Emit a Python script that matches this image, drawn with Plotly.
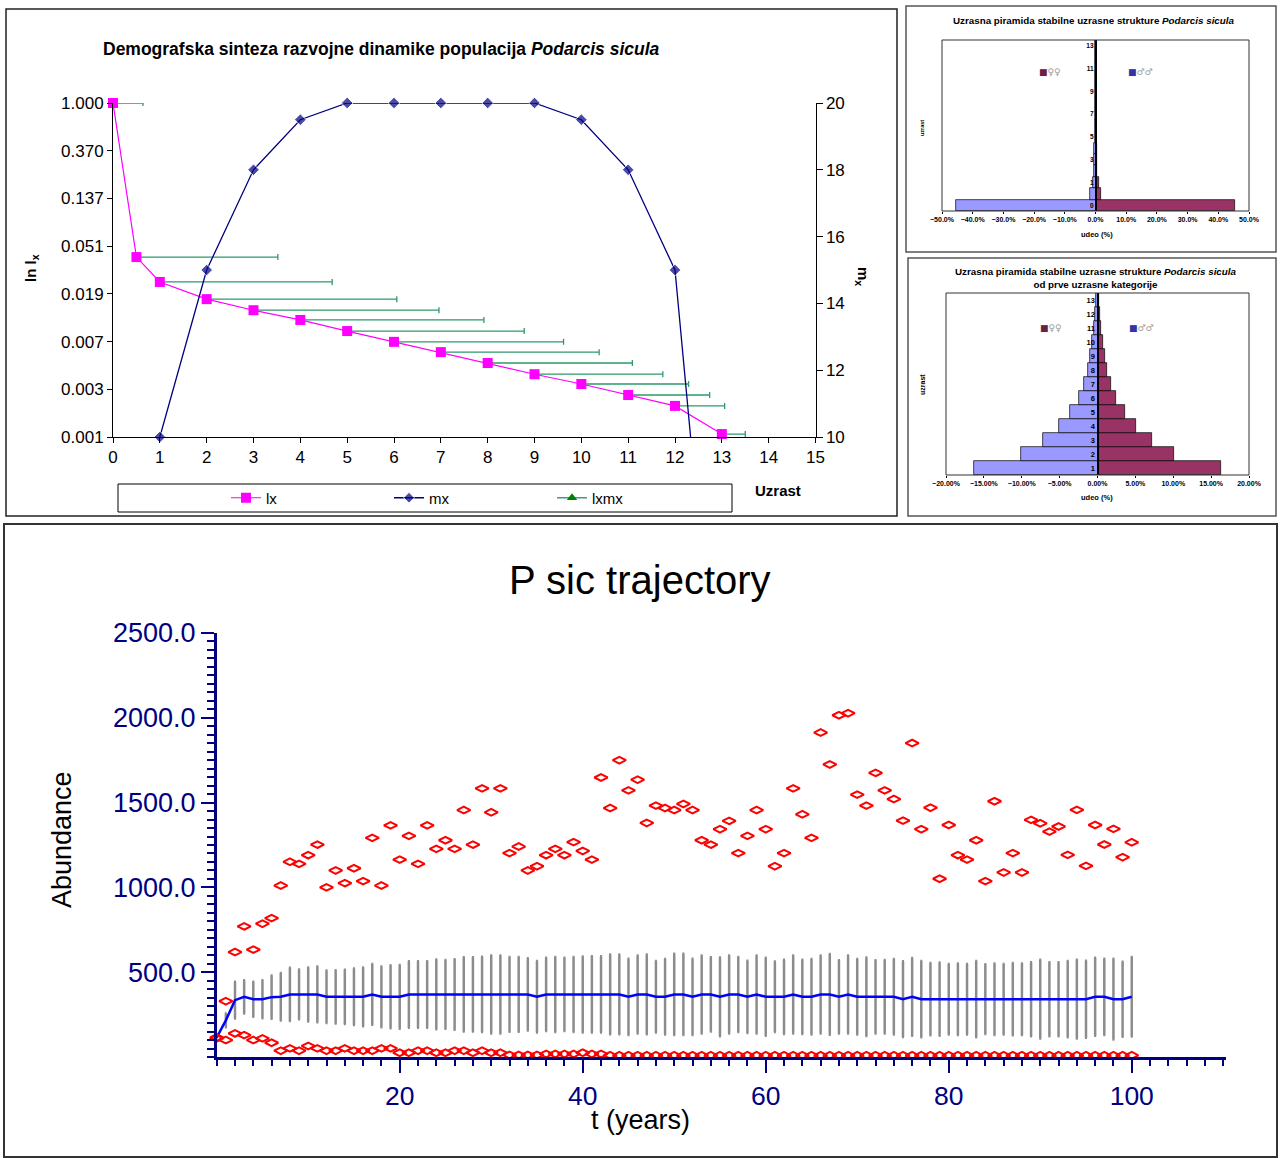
import math
import plotly.graph_objects as go

W, H = 1284, 1158
FONT = "Liberation Sans, Arial, sans-serif"
SYM_FONT = "DejaVu Sans, Noto Sans, sans-serif"


def px(x):
    return x / W


def py(y):
    return 1 - y / H


# ---------------- Panel 1: life table ----------------
age = [0, 0.5, 1, 2, 3, 4, 5, 6, 7, 8, 9, 10, 11, 12, 13]
lx = [1.0, 0.0396, 0.0235, 0.0164, 0.0130, 0.0106, 0.0084, 0.0067, 0.0054,
      0.0043, 0.0034, 0.00277, 0.0022, 0.00175, 0.00097]
lxmx_reach = [0.64, 3.02, 3.68, 4.06, 3.96, 3.92, 3.78, 3.62, 3.38, 3.09,
              2.74, 2.29, 1.74, 1.06, 0.5]
mx_age = [1, 2, 3, 4, 5, 6, 7, 8, 9, 10, 11, 12, 13]
mx = [10, 15, 18, 19.5, 20, 20, 20, 20, 20, 19.5, 18, 15, 0]
ln_tick_labels = ["1.000", "0.370", "0.137", "0.051", "0.019", "0.007", "0.003", "0.001"]

# ---------------- Pyramids ----------------
pyr1_age = ["0", "0.5", "1", "2", "3", "4", "5", "6", "7", "8", "9", "10", "11", "12", "13"]
pyr1_males = [45.5, 1.75, 0.9, 0.6, 0.45, 0.35, 0.28, 0.22, 0.17, 0.13, 0.1, 0.08, 0.05, 0.03, 0.01]
pyr1_females = [45.5, 1.8, 1.0, 0.6, 0.45, 0.35, 0.28, 0.22, 0.17, 0.13, 0.1, 0.08, 0.05, 0.03, 0.01]

pyr2_age = ["1", "2", "3", "4", "5", "6", "7", "8", "9", "10", "11", "12", "13"]
pyr2_males = [16.25, 10.05, 7.15, 5.05, 3.58, 2.5, 1.83, 1.22, 0.94, 0.68, 0.45, 0.38, 0.2]
pyr2_females = [16.25, 10.05, 7.15, 5.05, 3.58, 2.5, 1.83, 1.22, 0.94, 0.68, 0.45, 0.38, 0.2]

# ---------------- Trajectory ----------------
years = list(range(0, 101))
traj_x_ticks = [20, 40, 60, 80, 100]
traj_y_ticks = [500, 1000, 1500, 2000, 2500]
traj_mean = [115, 216, 335, 355, 341, 341, 353, 355, 369, 369,
             369, 369, 355, 355, 355, 355, 355, 369, 355, 355,
             355, 369, 369, 369, 369, 369, 369, 369, 369, 369,
             369, 369, 369, 369, 369, 355, 369, 369, 369, 369,
             369, 369, 369, 369, 369, 355, 369, 369, 355, 355,
             369, 369, 355, 369, 369, 355, 369, 369, 355, 369,
             355, 355, 355, 369, 355, 355, 369, 369, 355, 369,
             355, 355, 355, 355, 355, 341, 355, 341, 341, 341,
             341, 341, 341, 341, 341, 341, 341, 341, 341, 341,
             341, 341, 341, 341, 341, 341, 355, 355, 341, 341,
             355]
traj_sd = [0, 41, 108, 98, 103, 112, 127, 140, 157, 147,
           159, 164, 155, 157, 160, 167, 173, 179, 179, 186,
           188, 196, 196, 196, 206, 203, 208, 219, 219, 222,
           230, 230, 220, 220, 213, 211, 216, 221, 216, 221,
           224, 225, 225, 235, 235, 225, 230, 235, 211, 223,
           240, 240, 225, 230, 219, 232, 230, 221, 213, 230,
           230, 208, 219, 230, 219, 223, 230, 238, 216, 230,
           223, 231, 216, 217, 223, 223, 229, 225, 213, 216,
           208, 211, 208, 225, 206, 211, 208, 213, 211, 218,
           232, 218, 218, 225, 232, 227, 230, 225, 238, 221,
           234]
traj_max = [115, 329, 619, 770, 633, 786, 819, 1011, 1151, 1139,
            1190, 1252, 1000, 1100, 1025, 1113, 1037, 1292, 1011, 1366,
            1164, 1304, 1139, 1366, 1227, 1278, 1227, 1456, 1252, 1584,
            1443, 1584, 1202, 1241, 1100, 1125, 1190, 1227, 1190, 1267,
            1215, 1164, 1648, 1468, 1750, 1572, 1635, 1380, 1482, 1468,
            1456, 1492, 1456, 1278, 1252, 1343, 1392, 1202, 1304, 1456,
            1343, 1125, 1202, 1584, 1431, 1292, 1913, 1725, 2015, 2027,
            1547, 1482, 1675, 1572, 1521, 1394, 1851, 1343, 1470, 1051,
            1368, 1190, 1164, 1278, 1037, 1508, 1088, 1202, 1088, 1398,
            1378, 1329, 1359, 1192, 1457, 1127, 1368, 1253, 1345, 1178,
            1266]
traj_min = [110, 100, 139, 129, 100, 110, 84, 37, 51, 37,
            65, 51, 37, 37, 51, 37, 37, 37, 51, 51,
            25, 25, 37, 37, 25, 25, 37, 37, 25, 37,
            25, 25, 12, 12, 12, 12, 18, 18, 18, 18,
            25, 18, 18, 10, 10, 10, 10, 10, 10, 10,
            10, 10, 10, 10, 10, 10, 10, 10, 10, 10,
            10, 10, 10, 10, 10, 10, 10, 10, 10, 10,
            10, 10, 10, 10, 10, 10, 10, 10, 10, 10,
            10, 10, 10, 10, 10, 10, 10, 10, 10, 10,
            10, 10, 10, 10, 10, 10, 10, 10, 10, 10,
            10]

fig = go.Figure()

# ---- Panel 1 traces ----
fig.add_trace(go.Scatter(
    x=age, y=lx, mode="markers", marker=dict(size=1, color="rgba(0,0,0,0)"),
    error_x=dict(type="data", symmetric=False, array=lxmx_reach,
                 arrayminus=[0] * len(age), color="#2E9B6A", thickness=1.3, width=3),
    showlegend=False, hoverinfo="skip", xaxis="x", yaxis="y"))
fig.add_trace(go.Scatter(
    x=age, y=lx, name="lx", mode="lines+markers",
    line=dict(color="#FF00FF", width=1.2),
    marker=dict(symbol="square", size=10, color="#FF00FF"),
    cliponaxis=False, xaxis="x", yaxis="y"))
fig.add_trace(go.Scatter(
    x=mx_age, y=mx, name="mx", mode="lines+markers",
    line=dict(color="#000080", width=1.3),
    marker=dict(symbol="diamond", size=[9] * (len(mx) - 1) + [0], color="#000080"),
    cliponaxis=False, xaxis="x", yaxis="y2"))
fig.add_trace(go.Scatter(
    x=[None], y=[None], name="lxmx", mode="lines+markers",
    line=dict(color="#3A9E8C", width=1.3),
    marker=dict(symbol="triangle-up", size=9, color="#008000"),
    xaxis="x", yaxis="y"))

# ---- Pyramid traces ----
BLUE, MAROON = "#9999FF", "#993366"
fig.add_trace(go.Bar(y=pyr1_age, x=[-v for v in pyr1_males], orientation="h",
                     marker=dict(color=BLUE, line=dict(color="black", width=0.7)),
                     showlegend=False, xaxis="x3", yaxis="y3"))
fig.add_trace(go.Bar(y=pyr1_age, x=pyr1_females, orientation="h",
                     marker=dict(color=MAROON, line=dict(color="black", width=0.7)),
                     showlegend=False, xaxis="x3", yaxis="y3"))
fig.add_trace(go.Bar(y=pyr2_age, x=[-v for v in pyr2_males], orientation="h",
                     marker=dict(color=BLUE, line=dict(color="black", width=0.7)),
                     showlegend=False, xaxis="x4", yaxis="y4"))
fig.add_trace(go.Bar(y=pyr2_age, x=pyr2_females, orientation="h",
                     marker=dict(color=MAROON, line=dict(color="black", width=0.7)),
                     showlegend=False, xaxis="x4", yaxis="y4"))

# ---- Trajectory traces ----
fig.add_trace(go.Scatter(
    x=years, y=traj_mean, mode="markers", marker=dict(size=1, color="rgba(0,0,0,0)"),
    error_y=dict(type="data", array=traj_sd, color="#8C8C8C", thickness=2.5, width=1),
    showlegend=False, hoverinfo="skip", xaxis="x5", yaxis="y5"))
fig.add_trace(go.Scatter(
    x=years, y=traj_mean, mode="lines", line=dict(color="#0000FF", width=2.5),
    showlegend=False, xaxis="x5", yaxis="y5"))
for series in (traj_max, traj_min):
    fig.add_trace(go.Scatter(
        x=years, y=series, mode="markers",
        marker=dict(symbol="diamond-wide-open", size=9.5, color="#FF0000",
                    line=dict(color="#FF0000", width=2)),
        cliponaxis=False, showlegend=False, xaxis="x5", yaxis="y5"))

# ---- Axes ----
black_tf = dict(family=FONT, size=17, color="black")
navy = "#000080"
small_tf = dict(family=FONT, size=7, color="black", weight="bold")

layout_axes = dict(
    xaxis=dict(domain=[px(113), px(815.5)], range=[0, 15], tick0=0, dtick=1,
               showline=True, linecolor="black", linewidth=1, ticks="outside",
               ticklen=5, tickcolor="black", tickfont=black_tf, showgrid=False,
               zeroline=False, anchor="y", automargin=False),
    yaxis=dict(domain=[py(437), py(103)], type="log",
               range=[math.log10(math.exp(-7)), 0],
               tickvals=[math.exp(-k) for k in range(len(ln_tick_labels))],
               ticktext=ln_tick_labels, showline=True, linecolor="black", linewidth=1,
               ticks="outside", ticklen=5, tickcolor="black", tickfont=black_tf,
               showgrid=False, zeroline=False, anchor="x", automargin=False),
    yaxis2=dict(overlaying="y", side="right", anchor="x", range=[10, 20], tick0=10, dtick=2,
                showline=True, linecolor="black", linewidth=1, ticks="outside",
                ticklen=6, tickcolor="black", tickfont=black_tf, showgrid=False,
                zeroline=False, automargin=False),
    xaxis3=dict(domain=[px(942), px(1249)], range=[-50, 50], tick0=0, dtick=10,
                tickformat=".1f", ticksuffix="%", anchor="y3", showline=False,
                ticks="outside", ticklen=2, tickcolor="black", tickfont=small_tf,
                showgrid=False, zeroline=False, automargin=False),
    yaxis3=dict(domain=[py(211), py(40)], type="category", categoryorder="array",
                categoryarray=pyr1_age, range=[-0.5, len(pyr1_age) - 0.5],
                anchor="free", position=px(1096), showline=True, linecolor="black",
                linewidth=2.2, ticks="", tickvals=pyr1_age[0::2],
                tickfont=dict(family=FONT, size=6.5, color="black", weight="bold"),
                showgrid=False, zeroline=False, automargin=False),
    xaxis4=dict(domain=[px(946), px(1249)], range=[-20, 20], tick0=0, dtick=5,
                tickformat=".2f", ticksuffix="%", anchor="y4", showline=False,
                ticks="outside", ticklen=2, tickcolor="black", tickfont=small_tf,
                showgrid=False, zeroline=False, automargin=False),
    yaxis4=dict(domain=[py(475), py(293)], type="category", categoryorder="array",
                categoryarray=pyr2_age, range=[-0.5, len(pyr2_age) - 0.5],
                anchor="free", position=px(1097.5), showline=True, linecolor="black",
                linewidth=2.2, ticks="",
                tickfont=dict(family=FONT, size=7.5, color="black", weight="bold"),
                showgrid=False, zeroline=False, automargin=False),
    xaxis5=dict(domain=[px(216.7), px(1226)], range=[0, 110.3],
                tickmode="array", tickvals=traj_x_ticks,
                showline=True, linecolor=navy, linewidth=2.5, ticks="outside",
                ticklen=13, tickwidth=2, tickcolor=navy,
                minor=dict(tickmode="linear", tick0=0, dtick=2, ticklen=6, tickwidth=2,
                           tickcolor=navy, ticks="outside"),
                tickfont=dict(family=FONT, size=26.5, color=navy), showgrid=False,
                zeroline=False, anchor="y5", automargin=False),
    yaxis5=dict(domain=[py(1057), py(633)], range=[0, 2500],
                tickmode="array", tickvals=traj_y_ticks, tickformat=".1f",
                showline=True, linecolor=navy, linewidth=2.5, ticks="outside",
                ticklen=13, tickwidth=2, tickcolor=navy,
                minor=dict(tickmode="linear", tick0=0, dtick=50, ticklen=7, tickwidth=2,
                           tickcolor=navy, ticks="outside"),
                tickfont=dict(family=FONT, size=27, color=navy), showgrid=False,
                zeroline=False, anchor="x5", automargin=False),
)


def ann(x, y, text, size, bold=False, angle=0, color="black", xanchor="center", family=FONT):
    return dict(x=px(x), y=py(y), xref="paper", yref="paper", text=text,
                showarrow=False, textangle=angle, xanchor=xanchor, yanchor="middle",
                font=dict(family=family, size=size, color=color,
                          weight="bold" if bold else "normal"))


annotations = [
    ann(381, 49, "Demografska sinteza razvojne dinamike populacija <i>Podarcis sicula</i>", 17.5, True),
    ann(32, 268, "ln l<sub>x</sub>", 15, True, -90),
    ann(862, 276, "m<sub>x</sub>", 15, True, 90),
    ann(778, 490, "Uzrast", 15, True),
    # pyramid 1
    ann(1094, 21, "Uzrasna piramida stabilne uzrasne strukture <i>Podarcis sicula</i>", 9.8, True),
    ann(922, 128, "uzrast", 5.5, True, -90),
    ann(1097, 234, "udeo (%)", 7.5, True),
    ann(1037, 72, "<span style='color:#6b1f45'>■</span>♀♀", 9, False, 0, "#9a9a9a", "left", SYM_FONT),
    ann(1126, 72, "<span style='color:#3333aa'>■</span>♂♂", 9, False, 0, "#9a9a9a", "left", SYM_FONT),
    # pyramid 2
    ann(1096, 278, "Uzrasna piramida stabilne uzrasne strukture <i>Podarcis sicula</i><br>od prve uzrasne kategorije", 9.8, True),
    ann(922, 385, "uzrast", 7, True, -90),
    ann(1097, 498, "udeo (%)", 7.5, True),
    ann(1038, 328, "<span style='color:#6b1f45'>■</span>♀♀", 9, False, 0, "#9a9a9a", "left", SYM_FONT),
    ann(1127, 328, "<span style='color:#3333aa'>■</span>♂♂", 9, False, 0, "#9a9a9a", "left", SYM_FONT),
    # trajectory
    ann(640, 580, "P sic trajectory", 40),
    ann(62, 840, "Abundance", 27, False, -90),
    ann(640, 1120, "t (years)", 27),
]


def rect(x0, y0, x1, y1, color="black", width=1):
    return dict(type="rect", xref="paper", yref="paper", x0=px(x0), x1=px(x1),
                y0=py(y1), y1=py(y0), line=dict(color=color, width=width),
                fillcolor="rgba(0,0,0,0)", layer="above")


shapes = [
    rect(6, 9, 897, 516, "#222222", 1.5),
    rect(906, 6, 1276, 252, "#555555", 1.5),
    rect(908, 258, 1276, 516, "#555555", 1.5),
    rect(4, 524, 1277, 1157, "#333333", 2),
    rect(942, 40, 1249, 211, "#333333", 1),
    rect(946, 293, 1249, 475, "#333333", 1),
    rect(118, 484, 732, 512, "black", 1),
]

fig.update_layout(
    width=W, height=H, autosize=False,
    margin=dict(l=0, r=0, t=0, b=0, pad=0, autoexpand=False),
    paper_bgcolor="white", plot_bgcolor="white",
    barmode="overlay", bargap=0,
    font=dict(family=FONT, color="black"),
    legend=dict(orientation="h", x=px(226), y=py(498), xanchor="left", yanchor="middle",
                bgcolor="rgba(0,0,0,0)", borderwidth=0, entrywidth=118,
                entrywidthmode="pixels", itemwidth=30,
                font=dict(family=FONT, size=15, color="black")),
    annotations=annotations,
    shapes=shapes,
    **layout_axes,
)

fig.write_html("out.html", config={"displayModeBar": False},
               post_script="document.body.style.margin='0px';")
